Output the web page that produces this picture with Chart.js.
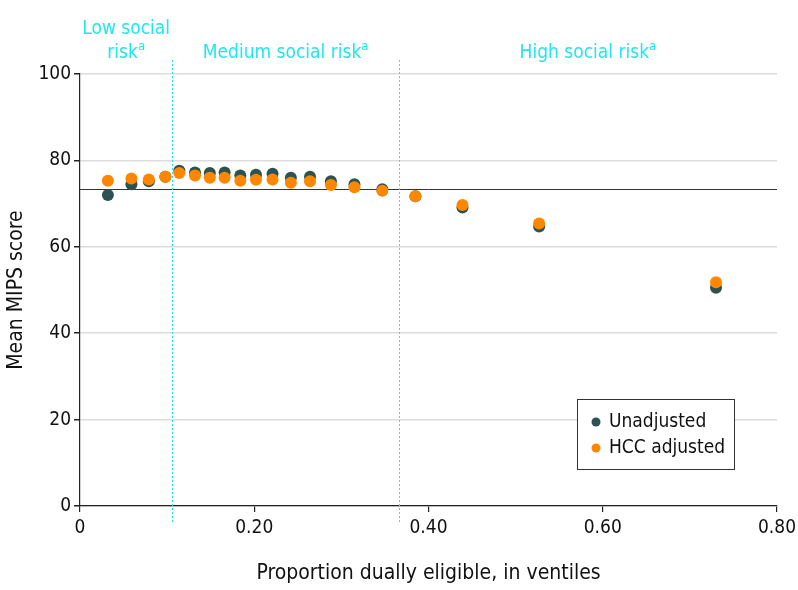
<!DOCTYPE html>
<html>
<head>
<meta charset="utf-8">
<script src="https://cdn.jsdelivr.net/npm/chart.js@4.4.1/dist/chart.umd.min.js"></script>
<style>
  html, body { margin: 0; padding: 0; background: #fff; }
  #wrap { width: 798px; height: 590px; }
</style>
</head>
<body>
<div id="wrap"><canvas id="grafico" width="798" height="590"></canvas></div>
<script>
// ventiles of dual eligibility
const proporcionDual = [0.032, 0.059, 0.079, 0.098, 0.114, 0.132, 0.149, 0.166, 0.184, 0.202,
  0.221, 0.242, 0.264, 0.288, 0.315, 0.347, 0.385, 0.439, 0.527, 0.730];
const puntajeSinAjuste = [72.0, 74.5, 75.2, 76.2, 77.6, 77.2, 77.1, 77.2, 76.5, 76.7,
  76.9, 76.0, 76.2, 75.2, 74.5, 73.3, 71.7, 69.1, 64.7, 50.5];
const puntajeHCC = [75.3, 75.8, 75.6, 76.2, 77.1, 76.5, 76.0, 76.0, 75.3, 75.5,
  75.6, 74.8, 75.2, 74.3, 73.8, 73.0, 71.7, 69.7, 65.4, 51.8];
const mediaGeneral = 73.4;
const cortesRiesgo = [0.106, 0.366];
const gruposRiesgo = [['Low social', 'risk'], ['Medium social risk'], ['High social risk']];
const ticksX = [0, 0.2, 0.4, 0.6, 0.8];
const ticksY = [0, 20, 40, 60, 80, 100];

const FUENTE = '"Liberation Sans Narrow", "DejaVu Sans Condensed", sans-serif';
const CIAN = '#22e6ee';
const OSCURO = '#2c5352';
const NARANJA = '#ff8700';

const puntos = (ys) => proporcionDual.map((x, i) => ({ x: x, y: ys[i] }));

const extras = {
  id: 'extras',
  beforeDatasetsDraw(chart) {
    const { ctx, chartArea, scales } = chart;
    const yRef = scales.y.getPixelForValue(mediaGeneral);
    ctx.save();
    ctx.strokeStyle = '#333';
    ctx.lineWidth = 1;
    ctx.beginPath();
    ctx.moveTo(chartArea.left, Math.round(yRef) + 0.5);
    ctx.lineTo(chartArea.right, Math.round(yRef) + 0.5);
    ctx.stroke();

    ctx.strokeStyle = CIAN;
    ctx.setLineDash([2, 2]);
    cortesRiesgo.forEach((c) => {
      const x = Math.round(scales.x.getPixelForValue(c)) + 0.5;
      ctx.beginPath();
      ctx.moveTo(x, 60);
      ctx.lineTo(x, 522);
      ctx.stroke();
    });
    ctx.setLineDash([]);

    // risk group labels, centred between cut points
    const limites = [scales.x.min, ...cortesRiesgo, scales.x.max];
    ctx.fillStyle = CIAN;
    ctx.textBaseline = 'middle';
    gruposRiesgo.forEach((lineas, g) => {
      const cx = scales.x.getPixelForValue((limites[g] + limites[g + 1]) / 2);
      lineas.forEach((txt, k) => {
        const y = 53 - (lineas.length - 1 - k) * 24;
        const ultima = k === lineas.length - 1;
        ctx.font = '19px ' + FUENTE;
        const w = ctx.measureText(txt).width;
        ctx.font = '13px ' + FUENTE;
        const ws = ultima ? ctx.measureText('a').width : 0;
        const x0 = cx - (w + ws) / 2;
        ctx.font = '19px ' + FUENTE;
        ctx.textAlign = 'left';
        ctx.fillText(txt, x0, y);
        if (ultima) {
          ctx.font = '13px ' + FUENTE;
          ctx.fillText('a', x0 + w, y - 6);
        }
      });
    });
    ctx.restore();
  },
  afterDatasetsDraw(chart) {
    const { ctx } = chart;
    // legend box inside plot
    const bx = 577, by = 399, bw = 157, bh = 70;
    ctx.save();
    ctx.fillStyle = '#fff';
    ctx.fillRect(bx, by, bw, bh);
    ctx.strokeStyle = '#333';
    ctx.lineWidth = 1;
    ctx.strokeRect(bx + 0.5, by + 0.5, bw, bh);
    chart.data.datasets.slice().sort((a, b) => a.leyenda - b.leyenda).forEach((ds, i) => {
      const y = 422 + i * 26;
      ctx.fillStyle = ds.backgroundColor;
      ctx.beginPath();
      ctx.arc(596, y, 4.5, 0, Math.PI * 2);
      ctx.fill();
      ctx.fillStyle = '#111';
      ctx.font = '19px ' + FUENTE;
      ctx.textAlign = 'left';
      ctx.textBaseline = 'middle';
      ctx.fillText(ds.label, 609, y);
    });
    ctx.restore();
  }
};

new Chart(document.getElementById('grafico').getContext('2d'), {
  type: 'scatter',
  data: {
    datasets: [
      {
        label: 'Unadjusted',
        data: puntos(puntajeSinAjuste),
        backgroundColor: OSCURO,
        borderWidth: 0,
        pointRadius: 6,
        order: 1,
        leyenda: 0
      },
      {
        label: 'HCC adjusted',
        data: puntos(puntajeHCC),
        backgroundColor: NARANJA,
        borderWidth: 0,
        pointRadius: 6,
        order: 0,
        leyenda: 1
      }
    ]
  },
  plugins: [extras],
  options: {
    responsive: false,
    animation: false,
    layout: { padding: { top: 74, right: 21, left: 0, bottom: 0 } },
    plugins: { legend: { display: false }, tooltip: { enabled: false } },
    scales: {
      x: {
        type: 'linear',
        min: 0,
        max: 0.8,
        afterBuildTicks: (s) => { s.ticks = ticksX.map((v) => ({ value: v })); },
        afterFit: (s) => { s.height = 84; s.paddingRight = 0; s.paddingLeft = 0; },
        grid: { drawOnChartArea: false, tickLength: 6, tickColor: '#222', lineWidth: 1.2 },
        border: { color: '#222', width: 1.2 },
        ticks: {
          color: '#111',
          padding: 5,
          font: { family: FUENTE, size: 19 },
          callback: (v) => (v === 0 ? '0' : v.toFixed(2))
        },
        title: {
          display: true,
          text: 'Proportion dually eligible, in ventiles',
          color: '#111',
          font: { family: FUENTE, size: 21 },
          padding: { top: 10 }
        }
      },
      y: {
        min: 0,
        max: 100,
        afterBuildTicks: (s) => { s.ticks = ticksY.map((v) => ({ value: v })); },
        afterFit: (s) => { s.width = 80; },
        grid: { color: '#dcdcdc', lineWidth: 1.5, tickLength: 6, tickColor: '#222' },
        border: { color: '#222', width: 1.2 },
        ticks: {
          color: '#111',
          padding: 3,
          font: { family: FUENTE, size: 19 }
        },
        title: {
          display: true,
          text: 'Mean MIPS score',
          color: '#111',
          font: { family: FUENTE, size: 21 },
          padding: { bottom: 10 }
        }
      }
    }
  }
});
</script>
</body>
</html>
